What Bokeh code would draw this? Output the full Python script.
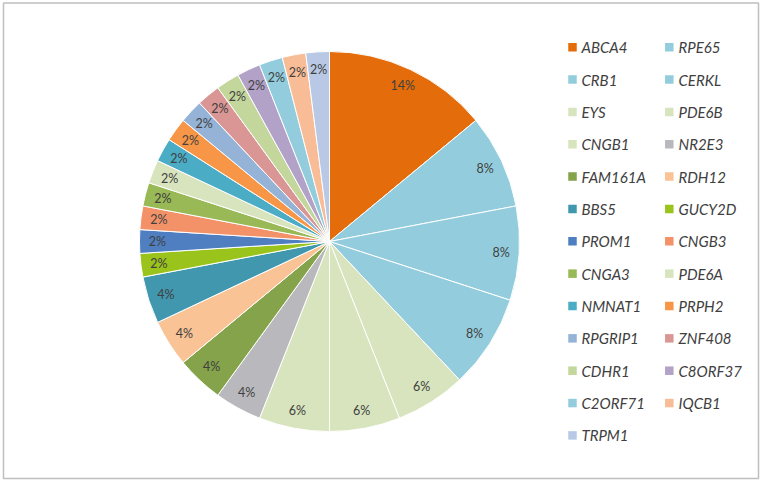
import math
from bokeh.plotting import figure
from bokeh.models import Range1d, ColumnDataSource
from bokeh.core.properties import value
from bokeh.embed import file_html
from bokeh.resources import INLINE

genes = ["ABCA4", "RPE65", "CRB1", "CERKL", "EYS", "PDE6B", "CNGB1", "NR2E3",
         "FAM161A", "RDH12", "BBS5", "GUCY2D", "PROM1", "CNGB3", "CNGA3", "PDE6A",
         "NMNAT1", "PRPH2", "RPGRIP1", "ZNF408", "CDHR1", "C8ORF37", "C2ORF71",
         "IQCB1", "TRPM1"]
percents = [14, 8, 8, 8, 6, 6, 6, 4, 4, 4, 4, 2, 2, 2, 2, 2, 2, 2, 2, 2, 2, 2, 2, 2, 2]
colors = ["#E46C0A", "#93CDDD", "#93CDDD", "#93CDDD", "#D7E4BD", "#D7E4BD", "#D7E4BD",
          "#B9B9BD", "#84A34A", "#F9C396", "#4097AE", "#9AC31C", "#4F7FC0", "#F39269",
          "#98B955", "#D7E4BD", "#4BACC6", "#F79646", "#95B3D7", "#D99694", "#C3D69B",
          "#B3A2C7", "#93CDDD", "#F8BC96", "#B9C9E5"]

W, H = 761, 482
p = figure(width=W, height=H, output_backend="svg", toolbar_location=None,
           x_range=Range1d(0, W), y_range=Range1d(0, H), min_border=0)
p.axis.visible = False
p.grid.visible = False
p.outline_line_color = None
p.background_fill_color = "white"
p.border_fill_color = "white"

def px(x):
    return x
def py(y):
    return H - y

# chart-area border
p.quad(left=px(3), right=px(758), top=py(2.5), bottom=py(478), fill_color=None,
       line_color="#BFBFBF", line_width=1.5)

cx, cy, r = px(329), py(241), 190
lab_r = 172
total = sum(percents)
starts, ends, lx, ly, labels = [], [], [], [], []
cum = 0.0
for v in percents:
    a0 = math.pi / 2 - 2 * math.pi * cum / total
    cum += v
    a1 = math.pi / 2 - 2 * math.pi * cum / total
    starts.append(a0)
    ends.append(a1)
    mid = (a0 + a1) / 2
    lx.append(cx + lab_r * math.cos(mid))
    ly.append(cy + lab_r * math.sin(mid))
    labels.append(f"{v}%")

src = ColumnDataSource(dict(start=starts, end=ends, color=colors, lx=lx, ly=ly, label=labels))
p.wedge(x=cx, y=cy, radius=r, start_angle="start", end_angle="end", direction="clock",
        fill_color="color", line_color="white", line_width=1, source=src)
p.text(x="lx", y="ly", text="label", source=src, text_font=value("Lato"),
       text_font_size="12.5px", text_color="#404040", text_align="center",
       text_baseline="middle")

# legend (two columns, row-major)
row0, row_step = 46.7, 32.35
col_sq = [572, 668.8]
col_tx = [581, 678]
sx, sy, tx, ty = [], [], [], []
for i, g in enumerate(genes):
    row, col = divmod(i, 2)
    yy = py(row0 + row * row_step)
    sx.append(px(col_sq[col]))
    sy.append(yy)
    tx.append(px(col_tx[col]))
    ty.append(yy)
lsrc = ColumnDataSource(dict(sx=sx, sy=sy, tx=tx, ty=ty, name=genes, color=colors))
p.rect(x="sx", y="sy", width=8.5, height=8.5, fill_color="color", line_color=None, source=lsrc)
p.text(x="tx", y="ty", text="name", source=lsrc, text_font=value("Lato"),
       text_font_size="15px", text_font_style="italic", text_color="#404040",
       text_align="left", text_baseline="middle")

open("out.html", "w").write(file_html(p, INLINE))
